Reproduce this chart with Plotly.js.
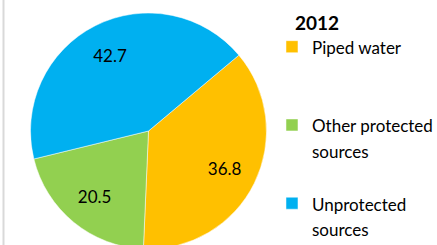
<!DOCTYPE html>
<html>
<head>
<meta charset="utf-8">
<script src="https://cdn.plot.ly/plotly-3.0.1.min.js"></script>
<style>
html, body { margin:0; padding:0; overflow:hidden; background:#fff; }
#chart { width:437px; height:249px; }
</style>
</head>
<body>
<div id="chart"></div>
<script>
const title = "2012";
const categories = ["Piped water", "Other protected sources", "Unprotected sources"];
const legendLabels = ["Piped water", "Other protected<br>sources", "Unprotected<br>sources"];
const values = [36.8, 20.5, 42.7];
const colors = ["#FFC000", "#92D050", "#00B0F0"];

// legend entries padded so spacing matches the original
const padded = legendLabels.map((l, i) => {
  const lines = l.split("<br>").length;
  const pad = i < legendLabels.length - 1 ? 3 - lines : 0;
  return "<span style='font-size:17px'>" + l + "</span>" + "<br> ".repeat(pad);
});

const common = {
  type: "pie",
  labels: padded,
  values: values,
  sort: false,
  direction: "clockwise",
  rotation: 50,
  domain: { x: [0.0698, 0.6098], y: [0, 1] },
  hoverinfo: "label+value"
};

// filled slices
const slices = Object.assign({}, common, {
  textinfo: "none",
  marker: { colors: colors, line: { color: "#ffffff", width: 0.5 } }
});

// transparent ring carrying the value labels (places them at ~3/4 radius)
const labelsRing = Object.assign({}, common, {
  hole: 0.44,
  showlegend: false,
  text: values.map(v => v.toFixed(1)),
  textinfo: "text",
  textposition: "inside",
  insidetextorientation: "horizontal",
  textfont: { family: "Lato, sans-serif", size: 17, color: "#000000" },
  marker: { colors: ["rgba(0,0,0,0)", "rgba(0,0,0,0)", "rgba(0,0,0,0)"], line: { width: 0 } }
});

const layout = {
  width: 437,
  height: 249,
  margin: { l: 0, r: 0, t: 13, b: 0, autoexpand: false },
  paper_bgcolor: "#ffffff",
  title: {
    text: "<b>" + title + "</b>",
    font: { family: "Lato, sans-serif", size: 19, color: "#000000" },
    xref: "paper", x: 0.675, xanchor: "left",
    yref: "container", y: 1 - 23 / 249, yanchor: "middle"
  },
  showlegend: true,
  legend: {
    x: 0.6224, xanchor: "left",
    y: 0.938, yanchor: "top",
    valign: "top",
    maxheight: 400,
    font: { family: "Lato, sans-serif", size: 19.3, color: "#000000" },
    itemwidth: 30,
    bgcolor: "rgba(0,0,0,0)"
  },
  shapes: [{
    type: "line", xref: "paper", yref: "paper",
    x0: 0.008, x1: 0.008, y0: -0.1, y1: 1.1,
    line: { color: "#d9d9d9", width: 2 }
  }]
};

Plotly.newPlot("chart", [slices, labelsRing], layout, { displayModeBar: false, staticPlot: true });
</script>
</body>
</html>
